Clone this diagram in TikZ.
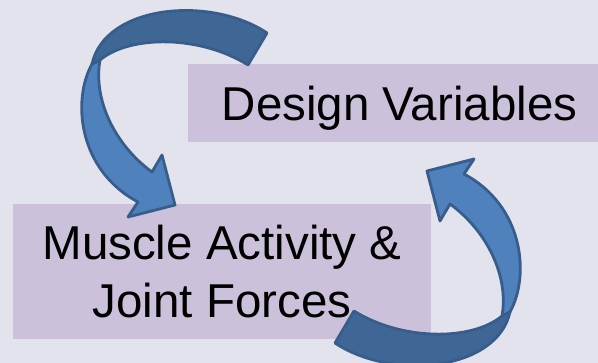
\documentclass[tikz,border=0pt]{standalone}
\usepackage{fontspec}
\setmainfont{Liberation Sans}
\definecolor{bgcol}{HTML}{E3E3EE}
\definecolor{boxcol}{HTML}{CCC1DA}
\definecolor{arrowfront}{HTML}{4F81BD}
\definecolor{arrowback}{HTML}{3F6796}
\definecolor{arrowline}{HTML}{385D8A}
\tikzset{
  labelbox/.style={fill=boxcol, inner sep=0pt,
    font=\fontsize{47.5pt}{57.5pt}\selectfont, align=center},
  ribbonfront/.style={fill=arrowfront, draw=arrowline, line width=2.8pt, line join=round},
  ribbonback/.style={fill=arrowback, draw=arrowline, line width=2.8pt, line join=round},
}
\begin{document}
\begin{tikzpicture}[x=1pt, y=-1pt]
  \useasboundingbox (0,0) rectangle (598,363);
  \fill[bgcol] (0,0) rectangle (598,363);

  \node[labelbox, minimum width=423pt, minimum height=78pt, text depth=0pt]
    (design) at (399.5,103) {Design Variables};
  \node[labelbox, minimum width=418pt, minimum height=135pt]
    (muscle) at (222,271.5) {Muscle Activity \&\\Joint Forces};

  % curved arrow from the design variables down to the muscle activity box:
  % front face turning down into the head, back face running over the top
  \path[ribbonfront] (92,64) .. controls (72,100) and (78,170) .. (138,202)
    -- (128,217) -- (175,205) -- (162,155) -- (152,172)
    .. controls (115,145) and (93,100) .. (100,60) -- cycle;
  \path[ribbonback] (92,64) .. controls (105,5) and (210,-5) .. (267,33)
    -- (248,65) .. controls (200,35) and (130,35) .. (100,60) -- cycle;

  % the same arrow turned half round, leading back up to the design variables
  \path[ribbonfront] (510,312) .. controls (530,276) and (524,206) .. (464,174)
    -- (474,159) -- (427,171) -- (440,221) -- (450,204)
    .. controls (487,231) and (509,276) .. (502,316) -- cycle;
  \path[ribbonback] (510,312) .. controls (497,371) and (392,381) .. (335,343)
    -- (354,311) .. controls (402,341) and (472,341) .. (502,316) -- cycle;
\end{tikzpicture}
\end{document}
